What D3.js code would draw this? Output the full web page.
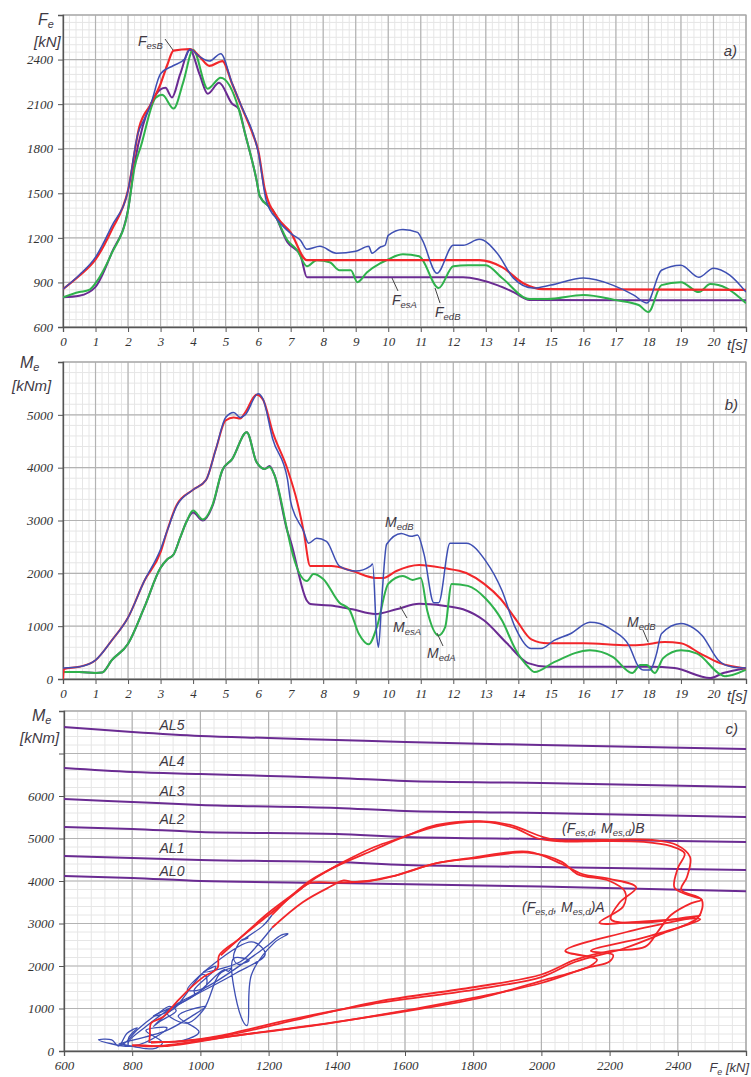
<!DOCTYPE html>
<html>
<head>
<meta charset="utf-8">
<script src="https://cdn.jsdelivr.net/npm/d3@7"></script>
<style>
  body { margin: 0; background: #fff; }
</style>
</head>
<body>
<script>
// ---------- panel a) : F_e(t) [kN] ----------
var FesB = [[0,855],[0.5,945],[1,1055],[1.5,1255],[2,1520],[2.35,1950],[2.7,2100],[3,2237],[3.2,2360],[3.4,2460],[3.9,2470],[4.2,2420],[4.5,2358],[4.9,2390],[5.2,2237],[5.5,2076],[5.85,1890],[6.0,1790],[6.2,1530],[6.6,1335],[7.0,1237],[7.5,1050],[12.8,1050],[13.5,1003],[14.15,895],[14.75,855],[21,850]];
var FedB = [[0,855],[0.5,950],[1,1070],[1.5,1280],[2,1520],[2.3,1900],[2.5,2000],[2.7,2100],[3,2305],[3.4,2360],[3.75,2405],[3.9,2470],[4.2,2420],[4.5,2390],[4.85,2440],[5.2,2240],[5.5,2080],[5.85,1900],[6.0,1780],[6.25,1450],[6.6,1320],[7,1230],[7.3,1184],[7.5,1123],[7.9,1143],[8.4,1097],[9,1110],[9.4,1143],[9.5,1097],[9.75,1137],[9.9,1150],[10,1217],[10.45,1257],[10.9,1237],[11.05,1184],[11.5,962],[12,1150],[12.3,1150],[12.8,1190],[13.35,1097],[13.85,929],[14.45,862],[15,882],[16,929],[16.9,882],[17.55,815],[17.95,761],[18.4,982],[19,1016],[19.55,935],[20,996],[20.5,949],[21,835]];
var FedA = [[0,800],[0.5,835],[0.8,850],[1,895],[1.5,1097],[2,1385],[2.2,1674],[2.4,1821],[2.85,2143],[3.05,2163],[3.4,2070],[3.7,2250],[4,2466],[4.45,2204],[4.85,2278],[5.4,2070],[5.6,1900],[5.95,1590],[6.05,1480],[6.45,1385],[6.9,1184],[7.2,1117],[7.5,1009],[7.8,1050],[8.2,1036],[8.5,982],[8.85,982],[9.05,902],[9.35,969],[9.75,1029],[9.95,1050],[10.45,1090],[10.95,1076],[11.55,862],[12,1009],[12.45,1016],[13,1016],[13.5,930],[14.35,788],[14.9,788],[16,815],[17,781],[17.7,748],[18,701],[18.4,882],[19,902],[19.55,835],[19.9,889],[20.4,862],[21,760]];
var FesA = [[0,800],[0.5,810],[1,870],[1.5,1100],[2,1390],[2.2,1700],[2.45,1950],[2.7,2100],[3.0,2200],[3.15,2210],[3.35,2145],[3.6,2300],[3.9,2466],[4.2,2300],[4.45,2170],[4.8,2244],[5.2,2103],[5.4,2070],[5.6,1900],[5.95,1590],[6.05,1480],[6.45,1385],[6.9,1170],[7.3,1083],[7.5,935],[12.3,935],[13.35,882],[13.85,835],[14.35,781],[21,780]];

// ---------- panel b) : M_e(t) [kNm] ----------
var MesB = [[0,0],[0.03,190],[0.5,231],[1,356],[1.5,731],[2,1163],[2.5,1856],[3,2400],[3.2,2800],[3.5,3300],[4,3581],[4.4,3769],[4.7,4350],[5,4894],[5.25,4950],[5.45,4931],[5.6,5044],[5.95,5381],[6.15,5288],[6.45,4669],[6.9,3975],[7.2,3356],[7.4,2794],[7.6,2138],[8.25,2138],[8.9,2044],[9.6,1913],[9.85,1913],[10.25,2044],[10.95,2156],[11.7,2100],[12.4,2006],[12.95,1800],[13.45,1519],[13.95,1106],[14.4,750],[14.9,675],[16,675],[17.4,638],[17.85,650],[18.5,700],[19,675],[19.6,481],[20.2,300],[21,200]];
var MedB = [[0,206],[0.5,231],[1,356],[1.5,731],[2,1163],[2.5,1856],[3,2456],[3.2,2800],[3.5,3281],[4,3581],[4.4,3769],[4.7,4350],[5.0,4950],[5.25,5044],[5.45,4950],[5.6,5000],[6.0,5400],[6.15,5300],[6.45,4538],[6.9,3788],[7.0,3356],[7.4,2794],[7.55,2569],[7.8,2663],[8.1,2606],[8.5,2138],[9.0,2044],[9.45,2138],[9.52,2175],[9.65,788],[9.7,600],[9.8,1500],[9.95,2550],[10.4,2756],[10.7,2700],[10.9,2725],[11.1,2363],[11.4,1444],[11.55,1444],[11.9,2569],[12.4,2569],[13,2231],[13.5,1669],[13.9,981],[14.4,575],[14.7,575],[15.1,731],[15.6,856],[16.2,1075],[16.5,1050],[16.9,919],[17.4,638],[17.7,231],[17.85,169],[18.05,169],[18.25,481],[18.4,856],[19,1050],[19.4,956],[19.65,825],[20.15,356],[20.55,231],[21,206]];
var MedA = [[0,131],[0.5,131],[1,113],[1.2,122],[1.5,356],[2,669],[2.5,1356],[3,2106],[3.2,2263],[3.4,2356],[3.6,2669],[3.8,2981],[4.0,3188],[4.3,3019],[4.6,3300],[4.9,3956],[5.2,4163],[5.65,4669],[5.95,4106],[6.2,3975],[6.35,4013],[6.5,3863],[6.9,2794],[7.0,2513],[7.5,1856],[7.7,1988],[8.0,1894],[8.5,1444],[8.8,1319],[9.1,850],[9.4,656],[9.65,981],[10,1800],[10.45,1950],[10.75,1875],[11.0,1913],[11.2,1294],[11.55,825],[11.75,981],[11.95,1800],[12.45,1763],[13,1519],[13.5,1106],[13.9,575],[14.3,231],[14.5,131],[15.1,319],[16.2,544],[16.9,419],[17.5,113],[17.75,263],[17.95,263],[18.2,113],[18.45,394],[19,544],[19.5,481],[20.15,113],[20.35,50],[21,175]];
var MesA = [[0,131],[0.5,131],[1,113],[1.2,122],[1.5,356],[2,669],[2.5,1356],[3,2106],[3.2,2263],[3.4,2356],[3.6,2669],[3.8,2981],[4.0,3150],[4.3,3000],[4.6,3280],[4.9,3950],[5.2,4163],[5.65,4669],[5.95,4106],[6.2,3975],[6.35,4030],[6.5,3863],[6.9,2794],[7.0,2606],[7.5,1481],[7.6,1419],[8.3,1388],[8.9,1319],[9.6,1231],[10.25,1319],[10.95,1425],[11.7,1388],[12.3,1319],[12.95,1106],[13.65,675],[14.3,300],[14.9,231],[16.5,231],[18.05,231],[18.8,206],[19.9,19],[20.3,113],[21,206]];

// ---------- panel c) : M_e vs F_e ----------
var AL5 = [[600,7624],[800,7506],[1000,7412],[1200,7365],[1400,7318],[1600,7270],[2000,7200],[2600,7106]];
var AL4 = [[600,6659],[800,6565],[1000,6518],[1200,6471],[1400,6424],[1600,6353],[2000,6306],[2600,6212]];
var AL3 = [[600,5929],[800,5859],[1000,5788],[1400,5718],[1600,5647],[2000,5600],[2600,5506]];
var AL2 = [[600,5271],[800,5224],[1000,5153],[1400,5106],[1600,5035],[2000,4988],[2600,4918]];
var AL1 = [[600,4588],[800,4541],[1000,4494],[1400,4447],[1600,4376],[2000,4329],[2600,4259]];
var AL0 = [[600,4118],[800,4071],[1000,4000],[1400,3953],[2000,3870],[2600,3760]];
var alNames = ["AL5", "AL4", "AL3", "AL2", "AL1", "AL0"];

var trajBs = [[855,200],[945,231],[1055,356],[1260,731],[1500,1100],[1800,1440],[2000,1740],[2100,2100],[2237,2400],[2350,2750],[2460,3150],[2470,3560],[2410,3790],[2427,4094],[2436,4565],[2397,4847],[2327,4965],[2180,4965],[2046,4965],[2005,5035],[1908,5318],[1820,5410],[1693,5318],[1594,5035],[1510,4800],[1420,4450],[1340,4080],[1300,3850],[1198,3240],[1115,2650],[1055,2250],[1050,1950],[1010,1750],[974,1510],[930,1150],[890,800],[855,650],[852,400],[850,200]];
var trajBd = [[855,206],[950,231],[1070,356],[1280,731],[1520,1163],[1800,1500],[2000,1800],[2100,2150],[2200,2350],[2305,2456],[2340,2794],[2380,3200],[2440,3480],[2470,3560],[2420,3700],[2390,3850],[2400,4300],[2420,4650],[2380,4820],[2300,4920],[2180,4940],[2060,4930],[1990,5000],[1920,5250],[1830,5390],[1700,5300],[1600,5050],[1500,4700],[1400,4350],[1320,4000],[1260,3600],[1210,3200]];
var trajAs = [[800,131],[810,131],[870,113],[1100,356],[1390,669],[1800,1250],[2000,1600],[2130,1950],[2200,2106],[2210,2263],[2145,2356],[2300,2669],[2420,2950],[2466,3100],[2300,3050],[2170,3020],[2240,3400],[2245,3750],[2200,4000],[2105,4163],[2060,4450],[1960,4669],[1800,4530],[1693,4420],[1560,4100],[1497,4000],[1400,3960],[1320,3950],[1290,3780],[1200,3200],[1120,2680],[1060,2250]];
var trajAd = [[800,131],[835,131],[895,113],[1097,356],[1385,669],[1650,1000],[1821,1250],[2000,1650],[2143,2000],[2163,2150],[2070,2356],[2250,2800],[2466,3188],[2300,3019],[2204,3100],[2230,3500],[2278,3850],[2200,4050],[2120,4163],[2060,4400],[1960,4690],[1800,4550],[1693,4420],[1560,4106],[1450,3975],[1420,4013],[1380,3863],[1300,3500],[1210,2900]];
var tailB = [[1210,3200],[1184,2950],[1123,2600],[1140,2663],[1120,2606],[1097,2200],[1110,2044],[1143,2130],[1097,2175],[1120,788],[1137,600],[1150,1800],[1217,2550],[1257,2756],[1237,2725],[1184,2400],[1000,1444],[962,1444],[1150,2569],[1190,2280],[1097,1800],[929,1050],[862,575],[882,700],[929,950],[910,1050],[882,919],[815,500],[775,169],[761,169],[900,481],[982,856],[1016,1050],[935,825],[996,450],[949,250],[848,206]];
var tailA = [[1210,2900],[1170,2513],[1117,2100],[1009,1856],[1045,1988],[1040,1894],[982,1444],[982,1319],[902,900],[960,656],[1010,981],[1055,1800],[1090,1950],[1082,1875],[1070,1913],[980,1294],[862,825],[920,981],[1005,1800],[1016,1763],[1016,1519],[930,1106],[840,575],[790,231],[788,131],[790,319],[815,544],[785,419],[760,113],[740,263],[701,263],[800,113],[882,394],[902,544],[840,481],[889,200],[880,113],[860,50],[768,169]];

var RED = "#f2262a", BLUE = "#3e4fb3", GREEN = "#2fb24c", PURPLE = "#6a2b92";
var SANS = "'Liberation Sans', Arial, sans-serif";
var SERIF = "'Liberation Serif', 'Times New Roman', serif";
var LBL = "#3f3a44";

var svg = d3.select("body").append("svg")
    .attr("width", 751).attr("height", 1077);

// draws grid, frame and axes of one panel, returns the scales
function panel(id, x0, x1, y0, y1, xd, yd, xMajor, xMinor, yMajor, yMinor, xLab, yLab) {
  var x = d3.scaleLinear().domain(xd).range([x0, x1]);
  var y = d3.scaleLinear().domain(yd).range([y1, y0]);
  var g = svg.append("g");

  svg.append("clipPath").attr("id", id).append("rect")
      .attr("x", x0).attr("y", y0).attr("width", x1 - x0).attr("height", y1 - y0);

  g.selectAll(".vmin").data(d3.range(xd[0], xd[1] + 1e-6, xMinor)).enter().append("line")
      .attr("x1", d => x(d)).attr("x2", d => x(d)).attr("y1", y0).attr("y2", y1)
      .attr("stroke", "#e6e6e6").attr("stroke-width", 1);
  g.selectAll(".hmin").data(d3.range(yd[0], yd[1] + 1e-6, yMinor)).enter().append("line")
      .attr("y1", d => y(d)).attr("y2", d => y(d)).attr("x1", x0).attr("x2", x1)
      .attr("stroke", "#e6e6e6").attr("stroke-width", 1);
  g.selectAll(".vmaj").data(d3.range(xd[0], xd[1] + 1e-6, xMajor)).enter().append("line")
      .attr("x1", d => x(d)).attr("x2", d => x(d)).attr("y1", y0).attr("y2", y1)
      .attr("stroke", "#b3b3b3").attr("stroke-width", 1.2);
  g.selectAll(".hmaj").data(d3.range(yd[0], yd[1] + 1e-6, yMajor)).enter().append("line")
      .attr("y1", d => y(d)).attr("y2", d => y(d)).attr("x1", x0).attr("x2", x1)
      .attr("stroke", "#b3b3b3").attr("stroke-width", 1.2);
  g.append("rect").attr("x", x0).attr("y", y0).attr("width", x1 - x0).attr("height", y1 - y0)
      .attr("fill", "none").attr("stroke", "#aaa").attr("stroke-width", 1.2);

  var ax = d3.axisBottom(x).tickValues(d3.range(xd[0], xd[1] + 1e-6, xMajor))
      .tickSize(5).tickPadding(5).tickFormat(d => xLab.indexOf(d) >= 0 ? d : "");
  var ay = d3.axisLeft(y).tickValues(d3.range(yd[0], yd[1] + 1e-6, yMajor))
      .tickSize(5).tickPadding(5).tickFormat(d => yLab.indexOf(d) >= 0 ? d : "");
  [svg.append("g").attr("transform", "translate(0," + y1 + ")").call(ax),
   svg.append("g").attr("transform", "translate(" + x0 + ",0)").call(ay)].forEach(function (a) {
    a.select(".domain").attr("stroke", "#555").attr("stroke-width", 1.3);
    a.selectAll(".tick line").attr("stroke", "#555");
    a.selectAll("text").attr("font-family", SERIF).attr("font-style", "italic")
        .attr("font-size", 13).attr("fill", "#333");
  });
  return {x: x, y: y};
}

function curve(sc, clip, data, color, w, type) {
  svg.append("path").datum(data)
      .attr("clip-path", "url(#" + clip + ")")
      .attr("fill", "none").attr("stroke", color).attr("stroke-width", w)
      .attr("stroke-linejoin", "round")
      .attr("d", d3.line().x(d => sc.x(d[0])).y(d => sc.y(d[1])).curve(type));
}

function text(x, y, parts, size, anchor) {
  var t = svg.append("text").attr("x", x).attr("y", y)
      .attr("font-family", SANS).attr("font-style", "italic")
      .attr("font-size", size).attr("fill", LBL).attr("text-anchor", anchor || "start");
  var low = false;
  parts.forEach(function (p) {
    var sub = typeof p !== "string";
    var s = t.append("tspan").text(sub ? p.s : p);
    if (sub) { s.attr("font-size", size * 0.68).attr("dy", low ? 0 : 3); low = true; }
    else if (low) { s.attr("dy", -3); low = false; }
  });
}

function leader(x1, y1, x2, y2) {
  svg.append("line").attr("x1", x1).attr("y1", y1).attr("x2", x2).attr("y2", y2)
      .attr("stroke", "#444").attr("stroke-width", 1);
}

var tLabels = d3.range(0, 21);

/* a) */
var pa = panel("ca", 63, 746, 15, 327, [0, 21], [600, 2700], 1, 0.2, 300, 50,
    tLabels, [600, 900, 1200, 1500, 1800, 2100, 2400]);
curve(pa, "ca", FesA, PURPLE, 2, d3.curveMonotoneX);
curve(pa, "ca", FedA, GREEN, 2, d3.curveMonotoneX);
curve(pa, "ca", FesB, RED, 2.2, d3.curveMonotoneX);
curve(pa, "ca", FedB, BLUE, 1.5, d3.curveMonotoneX);

/* b) */
var pb = panel("cb", 63, 746, 362, 679, [0, 21], [0, 6000], 1, 0.2, 1000, 200,
    tLabels, [0, 1000, 2000, 3000, 4000, 5000]);
curve(pb, "cb", MesA, PURPLE, 2, d3.curveMonotoneX);
curve(pb, "cb", MedA, GREEN, 2, d3.curveMonotoneX);
curve(pb, "cb", MesB, RED, 2, d3.curveMonotoneX);
curve(pb, "cb", MedB, BLUE, 1.5, d3.curveMonotoneX);

/* c) */
var pc = panel("cc", 64, 746, 711, 1051, [600, 2600], [0, 8000], 200, 40, 1000, 200,
    d3.range(600, 2401, 200), [0, 1000, 2000, 3000, 4000, 5000, 6000]);
[AL5, AL4, AL3, AL2, AL1, AL0].forEach(function (d) {
  curve(pc, "cc", d, PURPLE, 2, d3.curveMonotoneX);
});
var cr = d3.curveCatmullRom.alpha(0.5);
curve(pc, "cc", tailA, BLUE, 1.3, cr);
curve(pc, "cc", tailB, BLUE, 1.3, cr);
[trajAs, trajAd, trajBs, trajBd].forEach(function (d) {
  curve(pc, "cc", d, RED, 1.8, cr);
});

// axis titles
text(38, 25, ["F", {s: "e"}], 16);
text(34, 47, ["[kN]"], 15);
text(20, 368, ["M", {s: "e"}], 16);
text(12, 391, ["[kNm]"], 15);
text(32, 721, ["M", {s: "e"}], 16);
text(20, 743, ["[kNm]"], 15);
text(727, 350, ["t[s]"], 15);
text(727, 701, ["t[s]"], 15);
text(749, 1072, ["F", {s: "e"}, " [kN]"], 13, "end");

// panel marks
text(737, 56, ["a)"], 15, "end");
text(738, 410, ["b)"], 15, "end");
text(738, 734, ["c)"], 15, "end");

// curve names
text(138, 46, ["F", {s: "esB"}], 14);
leader(165, 39, 173, 50);
text(392, 305, ["F", {s: "esA"}], 14);
leader(392, 278, 398, 291);
text(435, 317, ["F", {s: "edB"}], 14);
leader(435, 288, 440, 303);

text(385, 527, ["M", {s: "edB"}], 14);
text(393, 632, ["M", {s: "esA"}], 14);
leader(400, 606, 407, 618);
text(427, 658, ["M", {s: "edA"}], 14);
leader(437, 633, 443, 646);
text(627, 627, ["M", {s: "edB"}], 14);
leader(643, 630, 648, 642);

var alY = [730, 766, 796, 824, 853, 876];
alNames.forEach(function (n, i) { text(172, alY[i], [n], 14, "middle"); });

text(562, 833, ["(F", {s: "es,d"}, ", M", {s: "es,d"}, ")B"], 14);
text(522, 912, ["(F", {s: "es,d"}, ", M", {s: "es,d"}, ")A"], 14);
</script>
</body>
</html>
